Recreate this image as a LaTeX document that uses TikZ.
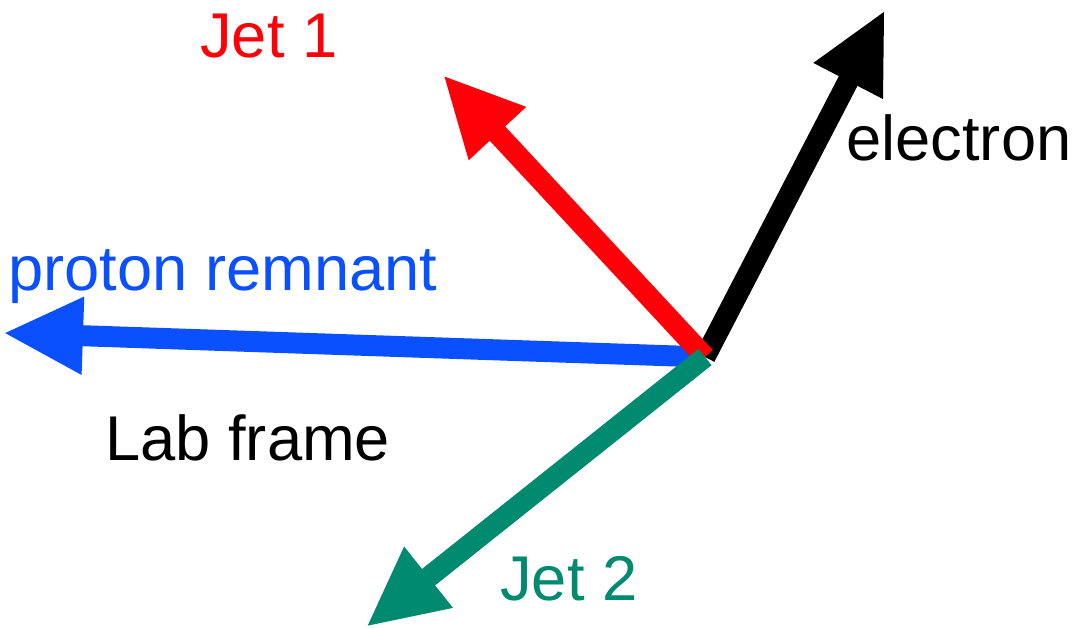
\documentclass[tikz,border=0pt]{standalone}
\usepackage{fontspec}
\setmainfont{Liberation Sans}
\usepackage{xcolor}
\usepackage{tikz}
\usetikzlibrary{arrows.meta}

\definecolor{jetred}{HTML}{FF0008}
\definecolor{protblue}{HTML}{0A50FF}
\definecolor{jetgreen}{HTML}{008A70}

\begin{document}
\begin{tikzpicture}[
    x=0.02cm, y=-0.02cm,
    vec/.style={line width=0.42cm, -{Triangle[length=1.6cm, width=1.44cm]}},
    lbl/.style={font=\fontsize{36}{42}\selectfont, inner sep=0pt}
]
    \useasboundingbox (0,0) rectangle (1074,628);

    \coordinate (vtx) at (705,357);
    \coordinate (elec) at (885,10);
    \coordinate (prot) at (3,333);
    \coordinate (jeta) at (443,75);
    \coordinate (jetb) at (366,627);

    \draw[vec, black] (vtx) -- (elec);
    \draw[vec, protblue] (vtx) -- (prot);
    \draw[vec, jetred] (vtx) -- (jeta);
    \draw[vec, jetgreen] (vtx) -- (jetb);

    \node[lbl, text=jetred, anchor=base west] (jetalbl) at (200,58) {Jet 1};
    \node[lbl, text=black, anchor=base west] (eleclbl) at (846,161) {electron};
    \node[lbl, text=protblue, anchor=base west] (protlbl) at (8,290) {proton remnant};
    \node[lbl, text=black, anchor=base west] (lablbl) at (105,460) {Lab frame};
    \node[lbl, text=jetgreen, anchor=base west] (jetblbl) at (500,600) {Jet 2};
\end{tikzpicture}
\end{document}
